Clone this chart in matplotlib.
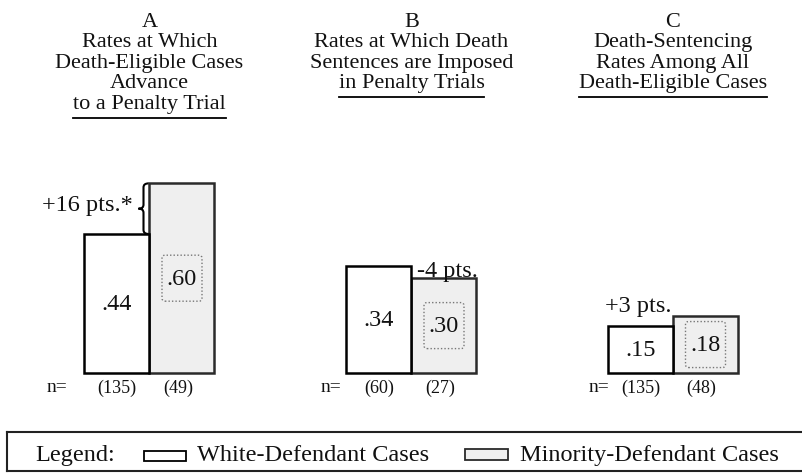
import numpy as np
import matplotlib
matplotlib.use("Agg")
import matplotlib.pyplot as plt
from matplotlib.path import Path
from matplotlib.patches import PathPatch, FancyBboxPatch, Rectangle

# data
panels = ["A", "B", "C"]
titles = [
    ["Rates at Which", "Death-Eligible Cases", "Advance", "to a Penalty Trial"],
    ["Rates at Which Death", "Sentences are Imposed", "in Penalty Trials"],
    ["Death-Sentencing", "Rates Among All", "Death-Eligible Cases"],
]
white_rates = [0.44, 0.34, 0.15]
minority_rates = [0.60, 0.30, 0.18]
white_n = [135, 60, 135]
minority_n = [49, 27, 48]
diff_labels = ["+16 pts.*", "-4 pts.", "+3 pts."]
legend_labels = ["White-Defendant Cases", "Minority-Defendant Cases"]

plt.rcParams["font.family"] = ["Liberation Serif", "DejaVu Serif"]

W, H = 803, 477
PX = 316.0        # pixels per unit rate
BASE = 374        # pixel row of the bar baseline


def ypx(p):
    # pixel row (from top) -> data y
    return (BASE - p) / PX


def fmt(v):
    return ("%.2f" % v)[1:]


fig = plt.figure(figsize=(W / 100, H / 100), dpi=100)
ax = fig.add_axes([0, 0, 1, 1])
ax.set_xlim(0, W)
ax.set_ylim(ypx(H), ypx(0))
ax.axis("off")

centers = np.array([149.5, 411.5, 673.0])
bw = 65
xw = centers - bw / 2
xm = centers + bw / 2
fs_title = 16
fs = 17.5
ink = "#111111"

ax.bar(xm, minority_rates, width=bw, facecolor="#efefef", edgecolor="#2a2a2a", lw=1.8)
ax.bar(xw, white_rates, width=bw, facecolor="white", edgecolor="black", lw=1.8)

# titles
underline_lines = []
for i, p in enumerate(panels):
    lines = [p] + titles[i]
    for j, line in enumerate(lines):
        t = ax.text(centers[i], ypx(27 + 20.4 * j), line, ha="center", va="baseline",
                    fontsize=fs_title, color=ink)
    underline_lines.append((t, ypx(27 + 20.4 * j + 10)))

# value labels
for i in range(3):
    ax.text(xw[i], white_rates[i] / 2, fmt(white_rates[i]), ha="center", va="center",
            fontsize=fs, color=ink)
    ax.text(xm[i], minority_rates[i] / 2, fmt(minority_rates[i]), ha="center", va="center",
            fontsize=fs, color=ink)
    box = FancyBboxPatch((xm[i] - 20, minority_rates[i] / 2 - 23 / PX), 40, 46 / PX,
                         boxstyle="round,pad=0,rounding_size=3", mutation_aspect=1 / PX,
                         facecolor="none", edgecolor="#777777", lw=1.0, ls=(0, (1, 1.5)))
    ax.add_patch(box)

# n labels
n_x = [57, 331, 599]
for i in range(3):
    ax.text(n_x[i], ypx(388), "n=", ha="center", va="center", fontsize=14, color=ink)
    ax.text(xw[i], ypx(388), "(%d)" % white_n[i], ha="center", va="center",
            fontsize=13, color=ink)
    ax.text(xm[i] - 4, ypx(388), "(%d)" % minority_n[i], ha="center", va="center",
            fontsize=13, color=ink)

# brace for panel A
x0 = centers[0] - 1
x1 = x0 - 5
x2 = x0 - 10
top, bot = minority_rates[0], white_rates[0]
mid = (top + bot) / 2
q = 4 / PX
verts = [(x0, top), (x1, top), (x1, top - q), (x1, mid + q), (x1, mid), (x2, mid),
         (x1, mid), (x1, mid - q), (x1, bot + q), (x1, bot), (x0, bot)]
codes = [Path.MOVETO, Path.CURVE3, Path.CURVE3, Path.LINETO, Path.CURVE3, Path.CURVE3,
         Path.CURVE3, Path.CURVE3, Path.LINETO, Path.CURVE3, Path.CURVE3]
ax.add_patch(PathPatch(Path(verts, codes), facecolor="none", edgecolor="black", lw=1.5))
ax.text(x2 - 6, mid + 4 / PX, diff_labels[0], ha="right", va="center", fontsize=fs, color=ink)

# difference labels B and C
ax.text(xw[1] + bw / 2 + 6, minority_rates[1] + 2 / PX, diff_labels[1], ha="left",
        va="baseline", fontsize=fs, color=ink)
ax.text(xw[2] - bw / 2 - 3, minority_rates[2] + 5 / PX, diff_labels[2], ha="left",
        va="baseline", fontsize=fs, color=ink)

# underline last title lines
fig.canvas.draw()
r = fig.canvas.get_renderer()
inv = ax.transData.inverted()
for t, yu in underline_lines:
    bb = t.get_window_extent(r)
    xa = inv.transform((bb.x0, 0))[0]
    xb = inv.transform((bb.x1, 0))[0]
    ax.plot([xa, xb], [yu, yu], color="black", lw=1.3)

# legend box
ax.plot([7, W], [ypx(433), ypx(433)], color="#222222", lw=1.5)
ax.plot([7, W], [ypx(472), ypx(472)], color="#222222", lw=1.5)
ax.plot([7, 7], [ypx(433), ypx(472)], color="#222222", lw=1.5)
ax.text(35, ypx(456), "Legend:", ha="left", va="center", fontsize=fs, color=ink)
ax.add_patch(Rectangle((144, ypx(462)), 42, 10 / PX, facecolor="white", edgecolor="black", lw=1.3))
ax.text(197, ypx(456), legend_labels[0], ha="left", va="center", fontsize=fs, color=ink)
ax.add_patch(Rectangle((465, ypx(461)), 43, 11 / PX, facecolor="#efefef", edgecolor="#2a2a2a", lw=1.3))
ax.text(520, ypx(456), legend_labels[1], ha="left", va="center", fontsize=fs, color=ink)

fig.savefig("out.png", dpi=100)
